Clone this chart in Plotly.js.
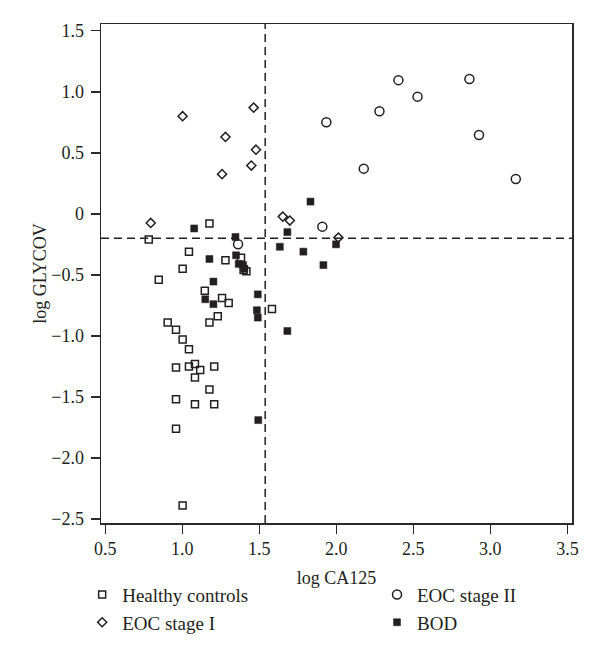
<!DOCTYPE html>
<html>
<head>
<meta charset="utf-8">
<script src="https://cdn.plot.ly/plotly-3.0.1.min.js"></script>
<style>
  html, body { margin: 0; padding: 0; background: #fff; }
  #chart { width: 600px; height: 672px; }
</style>
</head>
<body>
<div id="chart"></div>
<script>
// ---- Data ----
const healthyX = [1.176, 0.782, 1.043, 1.28, 1.381, 1.002, 1.398, 1.416, 0.847, 1.146, 1.258, 1.301, 1.582, 1.230, 1.176, 0.905, 0.959, 1.002, 1.043, 0.959, 1.043, 1.082, 1.116, 1.207, 1.082, 1.176, 0.959, 1.082, 1.207, 0.959, 1.002];
const healthyY = [-0.08, -0.21, -0.31, -0.38, -0.36, -0.45, -0.46, -0.47, -0.54, -0.63, -0.69, -0.73, -0.78, -0.84, -0.89, -0.89, -0.95, -1.03, -1.11, -1.26, -1.25, -1.23, -1.28, -1.25, -1.34, -1.44, -1.52, -1.56, -1.56, -1.76, -2.39];

const bodX = [1.832, 1.077, 1.682, 1.345, 1.633, 1.786, 1.998, 1.176, 1.349, 1.366, 1.394, 1.403, 1.916, 1.202, 1.490, 1.149, 1.202, 1.484, 1.490, 1.682, 1.493];
const bodY = [0.10, -0.12, -0.15, -0.19, -0.27, -0.31, -0.25, -0.37, -0.34, -0.41, -0.42, -0.45, -0.42, -0.555, -0.66, -0.70, -0.74, -0.79, -0.85, -0.96, -1.69];

const eoc1X = [1.002, 1.463, 1.28, 1.478, 1.448, 1.258, 0.795, 1.652, 1.698, 2.013];
const eoc1Y = [0.80, 0.87, 0.63, 0.525, 0.395, 0.325, -0.075, -0.023, -0.055, -0.195];

const eoc2X = [2.403, 2.864, 2.527, 2.280, 1.935, 2.926, 2.178, 3.165, 1.909, 1.362];
const eoc2Y = [1.095, 1.105, 0.96, 0.84, 0.75, 0.645, 0.37, 0.285, -0.105, -0.25];

const cutoffX = 1.538;
const cutoffY = -0.2;

const xTickVals = [0.5, 1.0, 1.5, 2.0, 2.5, 3.0, 3.5];
const xTickText = ["0.5", "1.0", "1.5", "2.0", "2.5", "3.0", "3.5"];
const yTickVals = [1.5, 1.0, 0.5, 0, -0.5, -1.0, -1.5, -2.0, -2.5];
const yTickText = ["1.5", "1.0", "0.5", "0", "\u22120.5", "\u22121.0", "\u22121.5", "\u22122.0", "\u22122.5"];

const seriesNames = ["Healthy controls", "EOC stage I", "EOC stage II", "BOD"];

// ---- Styling ----
const ink = "#231f20";
const frame = "#2a2a2a";
const fontFam = "Liberation Serif, DejaVu Serif, serif";

const traces = [
  { x: healthyX, y: healthyY, name: seriesNames[0], type: "scatter", mode: "markers", legend: "legend",
    marker: { symbol: "square-open", size: 7, color: ink, line: { width: 1.5, color: ink } } },
  { x: eoc1X, y: eoc1Y, name: seriesNames[1], type: "scatter", mode: "markers", legend: "legend",
    marker: { symbol: "diamond-open", size: 7, color: ink, line: { width: 1.5, color: ink } } },
  { x: eoc2X, y: eoc2Y, name: seriesNames[2], type: "scatter", mode: "markers", legend: "legend2",
    marker: { symbol: "circle-open", size: 9, color: ink, line: { width: 1.5, color: ink } } },
  { x: bodX, y: bodY, name: seriesNames[3], type: "scatter", mode: "markers", legend: "legend2",
    marker: { symbol: "square", size: 7, color: ink, line: { width: 0.5, color: ink } } }
];

const legendBase = {
  orientation: "v", xanchor: "left", y: -0.1056, yanchor: "top",
  font: { family: fontFam, size: 19, color: ink },
  bgcolor: "rgba(0,0,0,0)", itemclick: false, traceorder: "normal"
};

const layout = {
  width: 600, height: 672,
  margin: { l: 101, r: 28, t: 24, b: 149 },
  paper_bgcolor: "#fff", plot_bgcolor: "#fff",
  font: { family: fontFam, size: 18, color: ink },
  showlegend: true,
  legend: Object.assign({}, legendBase, { x: -0.040 }),
  legend2: Object.assign({}, legendBase, { x: 0.586 }),
  xaxis: {
    range: [0.472, 3.530], tickmode: "array", tickvals: xTickVals, ticktext: xTickText,
    ticks: "outside", ticklen: 9, tickwidth: 1.5, tickcolor: frame,
    showline: true, linecolor: frame, linewidth: 1.5, mirror: true,
    showgrid: false, zeroline: false,
    tickfont: { family: fontFam, size: 18, color: ink },
    title: { text: "log CA125", font: { family: fontFam, size: 18, color: ink }, standoff: 13 }
  },
  yaxis: {
    range: [-2.533, 1.555], tickmode: "array", tickvals: yTickVals, ticktext: yTickText,
    ticks: "outside", ticklen: 9, tickwidth: 1.5, tickcolor: frame,
    showline: true, linecolor: frame, linewidth: 1.5, mirror: true,
    showgrid: false, zeroline: false, ticklabelstandoff: 3,
    tickfont: { family: fontFam, size: 18, color: ink },
    title: { text: "log GLYCOV", font: { family: fontFam, size: 18, color: ink }, standoff: 0 }
  },
  shapes: [
    { type: "line", xref: "x", yref: "paper", x0: cutoffX, x1: cutoffX, y0: 0, y1: 1,
      line: { color: ink, width: 1.5, dash: "8px,5px" } },
    { type: "line", xref: "paper", yref: "y", x0: 0, x1: 1, y0: cutoffY, y1: cutoffY,
      line: { color: ink, width: 1.5, dash: "8px,5px" } }
  ]
};

Plotly.newPlot("chart", traces, layout, { displayModeBar: false, staticPlot: true });
</script>
</body>
</html>
